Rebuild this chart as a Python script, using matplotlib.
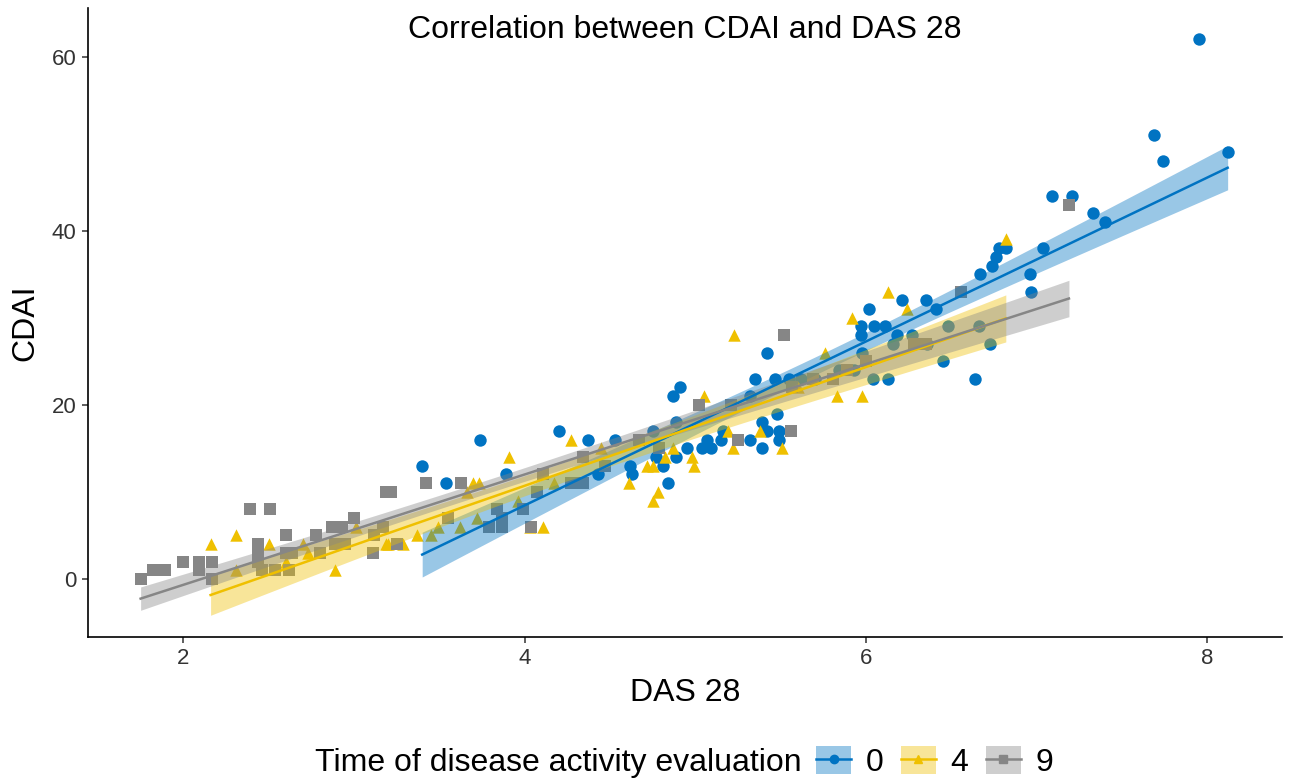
import numpy as np
import matplotlib
matplotlib.use("Agg")
import matplotlib.pyplot as plt
from matplotlib.patches import Patch
from matplotlib.lines import Line2D

plt.rcParams['font.family'] = ['Liberation Sans', 'DejaVu Sans']

# --- data ---
groups = ["0", "4", "9"]
colors = {"0": "#0073C2", "4": "#EFC000", "9": "#868686"}
markers = {"0": "o", "4": "^", "9": "s"}

das_0 = [3.40, 3.74, 3.54, 3.89, 4.20, 4.37, 4.53, 4.75, 4.62, 4.63, 4.43, 4.77, 4.81, 4.84,
         4.91, 4.87, 4.89, 5.16, 5.07, 5.04, 5.09, 5.15, 5.32, 5.42, 5.49, 5.49, 5.39, 4.95,
         4.89, 5.32, 5.35, 5.47, 5.55, 5.42, 5.48, 5.39, 5.84, 5.97, 6.05, 6.11, 5.97, 6.18,
         6.27, 6.16, 5.98, 6.02, 6.41, 6.04, 6.13, 7.09, 7.21, 7.33, 7.40, 6.82, 6.78, 6.76,
         6.74, 6.67, 7.04, 6.96, 6.97, 6.35, 6.21, 6.48, 6.64, 6.45, 6.73, 6.66, 6.28, 6.36,
         7.95, 7.69, 7.74, 8.12, 5.62, 5.70, 5.93]
cdai_0 = [13, 16, 11, 12, 17, 16, 16, 17, 13, 12, 12, 14, 13, 11,
          22, 21, 18, 17, 16, 15, 15, 16, 16, 17, 17, 16, 15, 15,
          14, 21, 23, 23, 23, 26, 19, 18, 24, 29, 29, 29, 28, 28,
          28, 27, 26, 31, 31, 23, 23, 44, 44, 42, 41, 38, 38, 37,
          36, 35, 38, 35, 33, 32, 32, 29, 23, 25, 27, 29, 27, 27,
          62, 51, 48, 49, 23, 23, 24]

das_4 = [2.16, 2.31, 2.50, 2.70, 2.73, 2.89, 3.01, 3.19, 2.60, 2.31,
         4.27, 3.91, 3.70, 3.73, 3.66, 3.37, 3.20, 3.29, 3.45, 3.62, 3.72, 3.49, 4.11, 4.03,
         4.61, 4.72, 4.75, 4.82, 4.78, 4.75, 4.17, 3.96,
         5.23, 5.76, 5.05, 5.92, 6.24, 5.83, 5.98, 5.38, 5.19, 5.22, 5.51, 4.98, 4.99, 4.87,
         6.82, 6.13, 4.45, 5.60]
cdai_4 = [4, 5, 4, 4, 3, 1, 6, 4, 2, 1,
          16, 14, 11, 11, 10, 5, 4, 4, 5, 6, 7, 6, 6, 6,
          11, 13, 13, 14, 10, 9, 11, 9,
          28, 26, 21, 30, 31, 21, 21, 17, 17, 15, 15, 14, 13, 15,
          39, 33, 15, 22]

das_9 = [1.75, 1.82, 1.89, 2.00, 2.09, 2.09, 2.17, 2.17, 2.39, 2.51, 2.44, 2.44, 2.44,
         2.46, 2.60, 2.54, 2.60, 2.64, 2.62, 2.78, 2.80, 2.87, 2.93, 2.89, 2.95, 3.00,
         3.12, 3.11, 3.19, 3.22, 3.42, 3.63, 3.25, 3.17, 3.55, 3.84, 3.87, 3.79, 3.87,
         3.99, 4.07, 4.04, 4.34, 4.11, 4.27, 4.34, 4.47, 4.67, 4.79,
         5.52, 5.02, 5.21, 5.25, 5.56, 5.57, 5.69, 5.81, 5.89, 6.00, 6.28, 6.35,
         6.56, 7.19]
cdai_9 = [0, 1, 1, 2, 2, 1, 2, 0, 8, 8, 4, 3, 2,
          1, 5, 1, 3, 3, 1, 5, 3, 6, 6, 4, 4, 7,
          5, 3, 10, 10, 11, 11, 4, 6, 7, 8, 7, 6, 6,
          8, 10, 6, 14, 12, 11, 11, 13, 16, 15,
          28, 20, 20, 16, 17, 22, 23, 23, 24, 25, 27, 27,
          33, 43]

data = {"0": (das_0, cdai_0), "4": (das_4, cdai_4), "9": (das_9, cdai_9)}


def lm_band(x, y, n_grid=80):
    # straight-line fit with 95% confidence band, like geom_smooth(method = "lm")
    x = np.asarray(x, float)
    y = np.asarray(y, float)
    n = len(x)
    b, a = np.polyfit(x, y, 1)
    resid = y - (a + b * x)
    s = np.sqrt(np.sum(resid ** 2) / (n - 2))
    xm = x.mean()
    sxx = np.sum((x - xm) ** 2)
    xg = np.linspace(x.min(), x.max(), n_grid)
    fit = a + b * xg
    se = s * np.sqrt(1.0 / n + (xg - xm) ** 2 / sxx)
    z = 1.96
    t = z + (z ** 3 + z) / (4 * (n - 2))
    return xg, fit, fit - t * se, fit + t * se


fig = plt.figure(figsize=(12.9, 7.8), dpi=100)
ax = fig.add_axes([0.068, 0.183, 0.926, 0.807])

for g in groups:
    x, y = data[g]
    ax.scatter(x, y, s=80, marker=markers[g], color=colors[g], linewidths=0, zorder=2)

for g in groups:
    x, y = data[g]
    xg, fit, lo, hi = lm_band(x, y)
    ax.fill_between(xg, lo, hi, color=colors[g], alpha=0.4, linewidth=0, zorder=3)
    ax.plot(xg, fit, color=colors[g], lw=1.8, zorder=4)

ax.set_xlim(1.44, 8.44)
ax.set_ylim(-6.7, 65.6)
ax.set_xticks([2, 4, 6, 8])
ax.set_yticks([0, 20, 40, 60])
ax.tick_params(labelsize=16, colors="#333333", length=4, width=1.1, pad=4)
for side in ["top", "right"]:
    ax.spines[side].set_visible(False)
for side in ["left", "bottom"]:
    ax.spines[side].set_linewidth(1.2)
ax.set_xlabel("DAS 28", fontsize=23, labelpad=6)
ax.set_ylabel("CDAI", fontsize=23, labelpad=8)
ax.text(0.5, 0.965, "Correlation between CDAI and DAS 28", transform=ax.transAxes,
        ha="center", va="center", fontsize=23)

# legend at the bottom
fig.text(315 / 1290, 1 - 763 / 780, "Time of disease activity evaluation",
         ha="left", va="center", fontsize=23)
handles = []
for g in groups:
    patch = Patch(facecolor=colors[g], alpha=0.4, edgecolor="none")
    line = Line2D([], [], color=colors[g], marker=markers[g], markersize=6, lw=1.8)
    handles.append((patch, line))
fig.legend(handles, groups, loc="center left", bbox_to_anchor=(816 / 1290, 1 - 762 / 780),
           ncol=3, frameon=False, fontsize=23, handlelength=1.1, handleheight=1.0,
           columnspacing=0.55, handletextpad=0.45, borderpad=0, borderaxespad=0)

fig.savefig("out.png", dpi=100)
